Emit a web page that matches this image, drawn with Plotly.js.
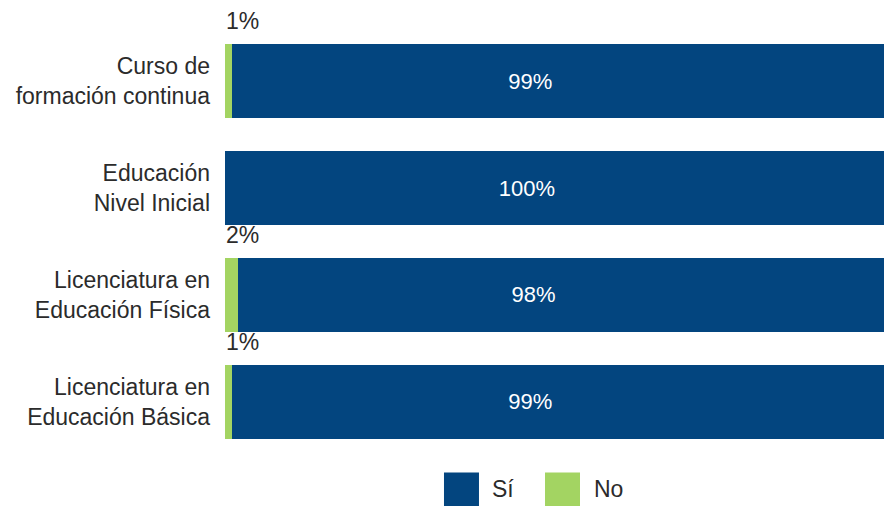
<!DOCTYPE html>
<html>
<head>
<meta charset="utf-8">
<script src="https://cdn.plot.ly/plotly-3.0.1.min.js"></script>
<style>html,body{margin:0;padding:0;background:#fff;}#chart{width:884px;height:506px;}</style>
</head>
<body>
<div id="chart"></div>
<script>
const categories = [
  "Curso de<br>formación continua",
  "Educación<br>Nivel Inicial",
  "Licenciatura en<br>Educación Física",
  "Licenciatura en<br>Educación Básica"
];
const noValues = [1, 0, 2, 1];
const siValues = [99, 100, 98, 99];
const seriesNames = ["Sí", "No"];

const BLUE = "#03457f";
const GREEN = "#a3d462";
const FONT = "Liberation Sans, Arial, Helvetica, sans-serif";
const TXT = "#2b2b2b";
// trailing non-breaking spaces nudge the in-bar label left of the bar centre, as in the original
const PAD = "\u00a0".repeat(9);

const traces = [
  {
    type: "bar", orientation: "h", name: seriesNames[1],
    y: categories, x: noValues,
    marker: {color: GREEN}, textposition: "none", hoverinfo: "skip"
  },
  {
    type: "bar", orientation: "h", name: seriesNames[0],
    y: categories, x: siValues,
    marker: {color: BLUE},
    text: siValues.map(v => v + "%" + PAD),
    textposition: "inside", insidetextanchor: "middle",
    constraintext: "none",
    textfont: {color: "#ffffff", size: 22, family: FONT},
    hoverinfo: "skip"
  }
];

const annotations = [];
categories.forEach((c, i) => {
  if (noValues[i] > 0) {
    annotations.push({
      x: 0, y: c, xref: "x", yref: "y", xanchor: "left", yanchor: "middle",
      yshift: 60, xshift: -1, text: noValues[i] + "%", showarrow: false,
      font: {size: 23, color: TXT, family: FONT}
    });
  }
});

// custom legend (large swatches)
const legendItems = [
  {name: seriesNames[0], color: BLUE, x0: 0.3323, x1: 0.3854, tx: 0.4021},
  {name: seriesNames[1], color: GREEN, x0: 0.4856, x1: 0.5387, tx: 0.5569}
];
const shapes = legendItems.map(it => ({
  type: "rect", xref: "paper", yref: "paper",
  x0: it.x0, x1: it.x1, y0: -0.0409, y1: -0.1227,
  fillcolor: it.color, line: {width: 0}
}));
legendItems.forEach(it => annotations.push({
  xref: "paper", yref: "paper", x: it.tx, y: -0.0806,
  xanchor: "left", yanchor: "middle", text: it.name, showarrow: false,
  font: {size: 23, color: TXT, family: FONT}
}));

const layout = {
  width: 884, height: 506,
  margin: {l: 225, r: 0, t: 27.5, b: 50.5, pad: 0},
  barmode: "stack", bargap: 0.308,
  showlegend: false,
  paper_bgcolor: "#ffffff", plot_bgcolor: "#ffffff",
  font: {family: FONT, size: 22, color: TXT},
  xaxis: {range: [0, 100], showgrid: false, zeroline: false, showticklabels: false, showline: false, fixedrange: true},
  yaxis: {range: [3.5, -0.5], autorange: false, showgrid: false, zeroline: false, showline: false, ticks: "",
          ticklabelstandoff: 14, tickfont: {size: 23, color: TXT, family: FONT}, fixedrange: true},
  annotations: annotations,
  shapes: shapes
};

Plotly.newPlot("chart", traces, layout, {displayModeBar: false, staticPlot: true});
</script>
</body>
</html>
